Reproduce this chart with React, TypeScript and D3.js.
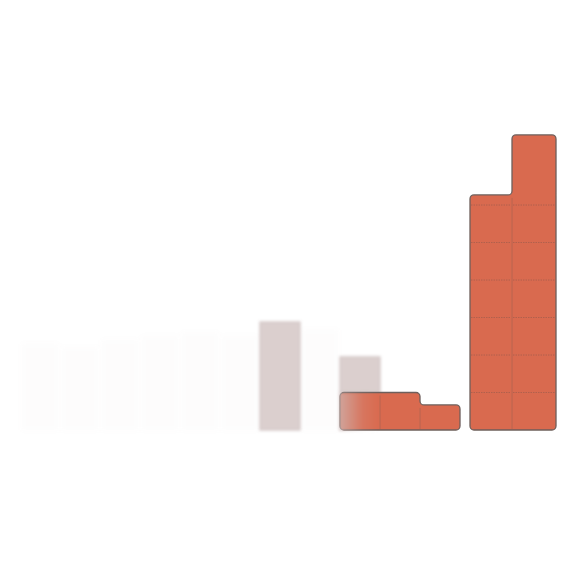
import * as d3 from "d3";
import React, { useEffect, useRef } from "react";

// histogram bins (x units) and the stacked series
const binStart = [0, 1, 2, 3, 4, 5, 6, 7, 8, 9, 10, 11.25, 12.3];
const binEnd = [1, 2, 3, 4, 5, 6, 7, 8, 9, 10, 11, 12.3, 13.4];
const redValues = [0, 0, 0, 0, 0, 0, 0, 0, 1, 1, 0.67, 6.27, 7.87];
const fadedValues = [0, 0, 0, 0, 0, 0, 2.88, 0, 0.95, 0, 0, 0, 0];
const ghostValues = [2.3, 2.2, 2.4, 2.5, 2.6, 2.5, 0, 2.67, 0, 0, 0, 0, 0];
const gridTicks = [1, 2, 3, 4, 5, 6];

const W = 566;
const H = 566;

const App: React.FC = () => {
  const svgRef = useRef<SVGSVGElement>(null);

  useEffect(() => {
    const svg = d3.select(svgRef.current);
    svg.selectAll("*").remove();

    const x = d3.scaleLinear().domain([0, 14]).range([20, 580]);
    const y = d3.scaleLinear().domain([0, 8]).range([430, 130]);

    const defs = svg.append("defs");
    const soft = (id: string, sd: number) =>
      defs.append("filter").attr("id", id)
        .attr("x", "-20%").attr("y", "-20%").attr("width", "140%").attr("height", "140%")
        .append("feGaussianBlur").attr("stdDeviation", sd);
    soft("blurGhost", 2.5);
    soft("blurFaded", 1.4);
    soft("blurSharp", 0.55);

    const grad = defs.append("linearGradient").attr("id", "fadeLeft")
      .attr("x1", "0").attr("x2", "1").attr("y1", "0").attr("y2", "0");
    grad.append("stop").attr("offset", "0%").attr("stop-color", "#cdb8b6").attr("stop-opacity", 0.75);
    grad.append("stop").attr("offset", "60%").attr("stop-color", "#cdb8b6").attr("stop-opacity", 0.15);
    grad.append("stop").attr("offset", "100%").attr("stop-color", "#cdb8b6").attr("stop-opacity", 0);

    const bins = binStart.map((s, i) => ({
      i, x0: s, x1: binEnd[i], red: redValues[i], faded: fadedValues[i], ghost: ghostValues[i],
    }));

    // ghost bars, almost erased
    svg.append("g").attr("filter", "url(#blurGhost)")
      .selectAll("rect")
      .data(bins.filter((d) => d.ghost > 0))
      .enter().append("rect")
      .attr("x", (d) => x(d.x0) + 2)
      .attr("width", (d) => x(d.x1) - x(d.x0) - 4)
      .attr("y", (d) => y(d.ghost))
      .attr("height", (d) => y(0) - y(d.ghost))
      .attr("fill", "#b9aaaa")
      .attr("opacity", 0.03);

    // faded grey bars (stacked on top of the red value)
    const fadedG = svg.append("g").attr("filter", "url(#blurFaded)");
    fadedG.selectAll("rect")
      .data(bins.filter((d) => d.faded > 0))
      .enter().append("rect")
      .attr("x", (d) => x(d.x0))
      .attr("width", (d) => x(d.x1) - x(d.x0))
      .attr("y", (d) => y(d.red + d.faded))
      .attr("height", (d) => y(d.red) - y(d.red + d.faded))
      .attr("fill", "#c4afae")
      .attr("stroke", "#b09a99")
      .attr("stroke-width", 1.2)
      .attr("opacity", 0.6);

    // contiguous groups of red bins
    const groups: typeof bins[] = [];
    bins.forEach((d, k) => {
      if (d.red <= 0) return;
      const last = groups[groups.length - 1];
      const prev = bins[k - 1];
      if (last && prev && prev.red > 0 && prev.x1 === d.x0) last.push(d);
      else groups.push([d]);
    });

    const roundedPath = (pts: [number, number][], r: number) => {
      const p = d3.path();
      const n = pts.length;
      const m: [number, number] = [(pts[0][0] + pts[1][0]) / 2, (pts[0][1] + pts[1][1]) / 2];
      p.moveTo(m[0], m[1]);
      for (let k = 1; k <= n; k++) {
        const a = pts[k % n];
        const b = pts[(k + 1) % n];
        p.arcTo(a[0], a[1], b[0], b[1], r);
      }
      p.closePath();
      return p.toString();
    };

    const redG = svg.append("g").attr("filter", "url(#blurSharp)");
    groups.forEach((g) => {
      const pts: [number, number][] = [];
      pts.push([x(g[0].x0), y(0)]);
      g.forEach((d) => {
        pts.push([x(d.x0), y(d.red)]);
        pts.push([x(d.x1), y(d.red)]);
      });
      pts.push([x(g[g.length - 1].x1), y(0)]);
      const clean = pts.filter((p, k) => k === 0 || p[0] !== pts[k - 1][0] || p[1] !== pts[k - 1][1]);
      const dStr = roundedPath(clean, 4);

      redG.append("path").attr("d", dStr).attr("fill", "#d96a50");

      // unit lines inside each bar
      g.forEach((d) => {
        gridTicks.filter((t) => t < d.red).forEach((t) => {
          redG.append("line")
            .attr("x1", x(d.x0) + 1).attr("x2", x(d.x1) - 1)
            .attr("y1", y(t)).attr("y2", y(t))
            .attr("stroke", "#9a5a4c").attr("stroke-width", 0.8)
            .attr("stroke-dasharray", "1.5,1").attr("opacity", 0.8);
        });
      });
      // dividers between neighbouring bars
      g.slice(1).forEach((d, k) => {
        const prev = g[k];
        redG.append("line")
          .attr("x1", x(d.x0)).attr("x2", x(d.x0))
          .attr("y1", y(Math.min(d.red, prev.red)) + 3).attr("y2", y(0) - 1)
          .attr("stroke", "#a0604f").attr("stroke-width", 0.8).attr("opacity", 0.7);
      });

      redG.append("path").attr("d", dStr)
        .attr("fill", "none").attr("stroke", "#6e5f5b").attr("stroke-width", 1.3)
        .attr("stroke-linejoin", "round");
    });

    // left edge of the first red bin blends into grey
    const firstRed = bins.find((d) => d.red > 0 && d.faded > 0);
    if (firstRed) {
      svg.append("rect")
        .attr("x", x(firstRed.x0) - 1)
        .attr("width", x(firstRed.x1) - x(firstRed.x0))
        .attr("y", y(firstRed.red))
        .attr("height", y(0) - y(firstRed.red) + 1)
        .attr("fill", "url(#fadeLeft)")
        .attr("filter", "url(#blurFaded)");
    }
  }, []);

  return (
    <svg
      ref={svgRef}
      width={W}
      height={H}
      style={{ position: "absolute", left: 0, top: 0, background: "#ffffff" }}
    />
  );
};

export default App;
